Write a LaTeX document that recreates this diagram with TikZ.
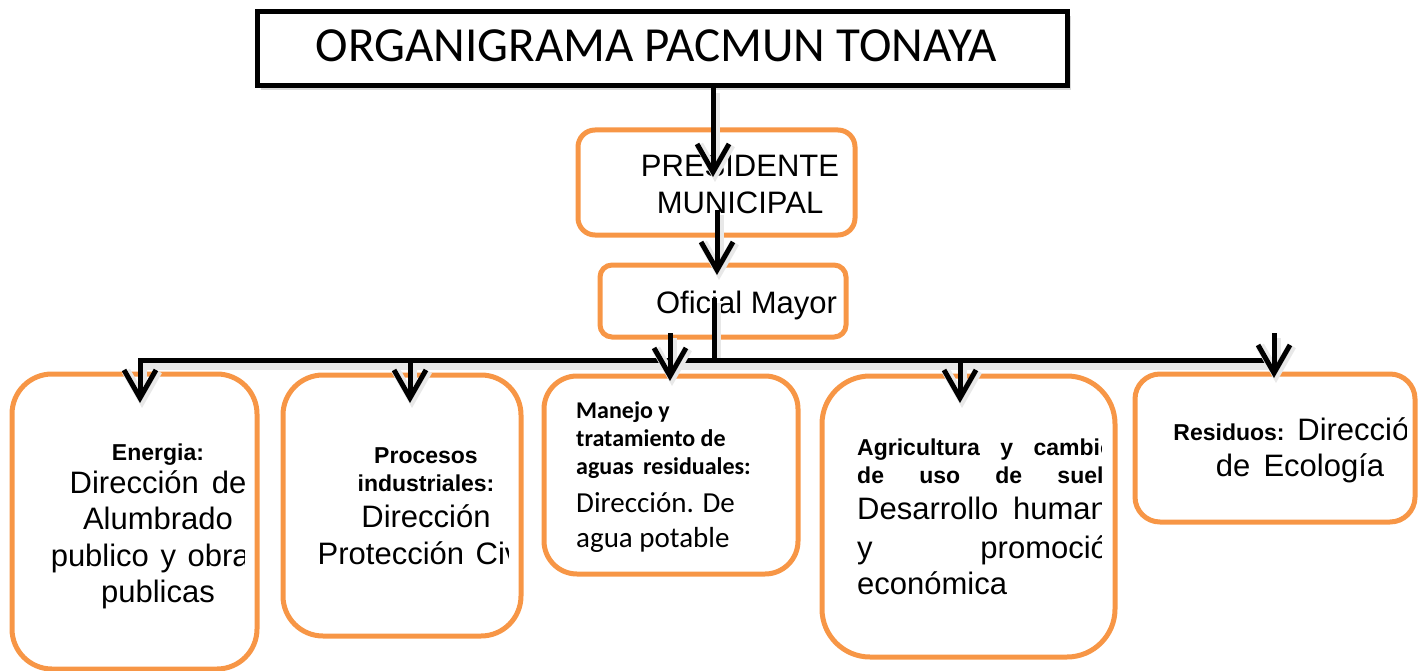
\documentclass[tikz,border=0pt]{standalone}
\usepackage{fontspec}
\usepackage{tikz}
\usetikzlibrary{arrows.meta,shadows}
\setmainfont{Liberation Sans}
\newfontfamily\calibri{Carlito}

\definecolor{orangeline}{RGB}{247,150,70}
\newcommand\bigtxt{\fontsize{31}{36.5}\selectfont}
\newcommand\boldtxt{\bfseries\fontsize{23}{28}\selectfont}

\tikzset{
  obox/.style={draw=orangeline, line width=5pt, rounded corners=#1, inner sep=0pt},
  obox/.default=20pt,
  ln/.style={line width=5pt,
             preaction={draw=black!9, line width=9pt, transform canvas={xshift=2pt,yshift=-5pt}}},
  arr/.style={line width=5pt, -{Straight Barb[length=28pt,width=32pt]},
              preaction={draw=black!9, line width=9pt, -{Straight Barb[length=28pt,width=32pt]},
                         transform canvas={xshift=2pt,yshift=-5pt}}},
  txt/.style={inner sep=0pt, text width=#1, align=center, font=\bigtxt,
              execute at begin node={\spaceskip=0pt\xspaceskip=0pt\relax}},
  txt/.default=300pt,
  ltxt/.style={inner sep=0pt, text width=#1, align=left, anchor=base west, font=\bigtxt,
               execute at begin node={\spaceskip=0pt\xspaceskip=0pt\relax}}
}

\begin{document}
\begin{tikzpicture}[x=1pt,y=-1pt]
    \useasboundingbox (0,0) rectangle (1423,671);

    % Title
    \node[draw, fill=white, line width=5pt, minimum width=810pt, minimum height=74pt,
          drop shadow={shadow xshift=4pt, shadow yshift=-4pt, opacity=.3}] (title) at (662,49) {};
    \node[anchor=base, inner sep=0pt] (titleTxt) at (656,62)
        {\calibri\fontsize{49}{58}\selectfont ORGANIGRAMA PACMUN TONAYA};

    % Upper boxes
    \node[obox=17pt, minimum width=277pt, minimum height=105pt] (pres) at (716.5,182.5) {};
    \node[txt, anchor=base] (presTxt) at (740,177) {PRESIDENTE\\MUNICIPAL\par};
    \node[obox=12pt, minimum width=246pt, minimum height=72pt] (oficial) at (723,301) {};
    \node[anchor=base, inner sep=0pt, font=\bigtxt] (oficialTxt) at (746.5,313) {Oficial Mayor};

    % Lower boxes
    \node[obox=40pt, minimum width=245pt, minimum height=295pt] (energia) at (134.5,521.5) {};
    \node[obox=40pt, minimum width=238pt, minimum height=261pt] (procesos) at (402,505.5) {};
    \node[obox=33pt, minimum width=254pt, minimum height=198pt] (manejo) at (671,475) {};
    \node[obox=48pt, minimum width=293pt, minimum height=281pt] (agricultura) at (968.5,516.5) {};
    \node[obox=25pt, minimum width=280pt, minimum height=148pt] (residuos) at (1275,448) {};

    % Texts of the lower boxes
    \begin{scope}
        \clip (0,380) rectangle (244,660);
        \node[txt, anchor=base] (energiaTxt) at (158,460)
            {{\boldtxt Energia:\par}\vspace{-3.5pt}Dirección de\\Alumbrado\\publico y obras\\publicas\par};
    \end{scope}
    \begin{scope}
        \clip (290,380) rectangle (508,630);
        \node[txt, anchor=base] (procesosTxt) at (426,463)
            {{\boldtxt Procesos\\industriales:\par}Dirección\\Protección Civil\par};
    \end{scope}
    \node[ltxt=250pt, font={\calibri\fontsize{29}{35}\selectfont}] (manejoTxt) at (576,418)
        {{\bfseries\fontsize{24}{28}\selectfont Manejo y\\tratamiento de\\aguas\, residuales:\par}
         \vspace{3pt}Dirección. De\\agua potable\par};
    \begin{scope}
        \clip (830,380) rectangle (1101,650);
        \node[ltxt=268pt] (agriculturaTxt) at (857,455)
            {{\boldtxt\makebox[257pt][s]{Agricultura y cambio}\\\makebox[\hsize][s]{de uso de suelo:}\par}
             \makebox[\hsize][s]{Desarrollo humano}\\[2pt]\makebox[\hsize][s]{y promoción}\\económica\par};
    \end{scope}
    \begin{scope}
        \clip (1140,380) rectangle (1406,515);
        \node[txt, anchor=base] (residuosTxt) at (1300,440)
            {{\boldtxt Residuos:}\hspace{-2pt} Dirección\\de Ecología\par};
    \end{scope}

    % Connectors
    \coordinate (presTip) at (713,177);
    \coordinate (presStem) at (717,210);
    \coordinate (oficialTip) at (717,275);
    \coordinate (oficialStem) at (714,298);
    \coordinate (barL) at (140,360);
    \coordinate (barR) at (1272,360);
    \coordinate (energia-tip) at (140,403);
    \coordinate (procesos-tip) at (410,403);
    \coordinate (agricultura-tip) at (960,403);
    \coordinate (manejo-top) at (670,333);
    \coordinate (manejo-tip) at (670,381);
    \coordinate (residuos-top) at (1274,333);
    \coordinate (residuos-tip) at (1274,378);

    \draw[arr] (title.south -| presTip) -- (presTip);
    \draw[arr] (presStem) -- (oficialTip);
    \draw[ln] (oficialStem) -- (oficialStem |- barL);
    \draw[arr] (barR) -- (barL) -- (energia-tip);
    \foreach \n in {procesos, agricultura} {
        \draw[arr] (barL -| \n-tip) -- (\n-tip);
    }
    \foreach \n in {manejo, residuos} {
        \draw[arr] (\n-top) -- (\n-tip);
    }
\end{tikzpicture}
\end{document}
